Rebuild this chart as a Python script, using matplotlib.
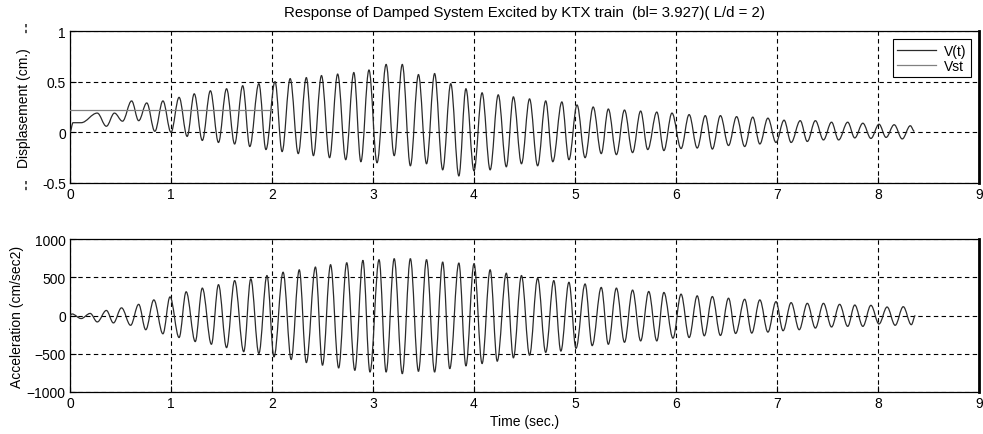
import matplotlib
matplotlib.use("Agg")
import matplotlib.pyplot as plt
from matplotlib.path import Path
from matplotlib.patches import PathPatch
from matplotlib.lines import Line2D

plt.rcParams['font.family'] = ['Liberation Sans', 'DejaVu Sans']
plt.rcParams['font.size'] = 10

# Displacement extremes (time s, cm)
disp_t = [0.00, 0.03, 0.11, 0.27, 0.36, 0.44, 0.52, 0.61, 0.68, 0.76, 0.84, 0.92, 1.00,
          1.08, 1.16, 1.23, 1.31, 1.39, 1.47, 1.55, 1.63, 1.71, 1.78, 1.87, 1.94, 2.03,
          2.10, 2.18, 2.26, 2.34, 2.41, 2.49, 2.57, 2.65, 2.73, 2.81, 2.88, 2.96, 3.04,
          3.13, 3.21, 3.29, 3.37, 3.45, 3.53, 3.61, 3.69, 3.77, 3.85, 3.92, 4.00, 4.08,
          4.16, 4.24, 4.32, 4.39, 4.47, 4.55, 4.63, 4.71, 4.78, 4.87, 4.94, 5.02, 5.10,
          5.18, 5.26, 5.33, 5.41, 5.49, 5.57, 5.65, 5.72, 5.81, 5.88, 5.96, 6.05, 6.13,
          6.21, 6.29, 6.36, 6.44, 6.52, 6.60, 6.68, 6.76, 6.83, 6.91, 6.99, 7.07, 7.14,
          7.23, 7.30, 7.38, 7.46, 7.54, 7.61, 7.70, 7.77, 7.85, 7.93, 8.01, 8.08, 8.16,
          8.24, 8.32, 8.36]
disp_v = [0.00, 0.095, 0.095, 0.19, 0.06, 0.19, 0.11, 0.31, 0.115, 0.29, 0.01, 0.31, 0.00,
          0.345, -0.04, 0.38, -0.08, 0.41, -0.10, 0.43, -0.115, 0.46, -0.14, 0.48, -0.17, 0.50,
          -0.19, 0.53, -0.21, 0.54, -0.23, 0.56, -0.25, 0.575, -0.27, 0.59, -0.29, 0.615, -0.30,
          0.67, -0.23, 0.67, -0.33, 0.57, -0.31, 0.58, -0.37, 0.48, -0.43, 0.43, -0.38, 0.39,
          -0.37, 0.37, -0.34, 0.35, -0.31, 0.33, -0.33, 0.31, -0.29, 0.30, -0.27, 0.27, -0.25,
          0.25, -0.21, 0.23, -0.22, 0.22, -0.20, 0.21, -0.17, 0.20, -0.18, 0.19, -0.16, 0.175,
          -0.155, 0.165, -0.165, 0.165, -0.13, 0.155, -0.14, 0.15, -0.115, 0.14, -0.10, 0.12, -0.10,
          0.115, -0.09, 0.115, -0.075, 0.10, -0.075, 0.10, -0.055, 0.09, -0.06, 0.08, -0.05, 0.075,
          -0.065, 0.065, 0.01]

# Static displacement line
vst_t = [0.0, 2.0]
vst_v = [0.22, 0.22]

# Acceleration extremes (time s, cm/sec2)
acc_t = [0.00, 0.02, 0.11, 0.20, 0.27, 0.36, 0.43, 0.51, 0.60, 0.68, 0.75, 0.83, 0.92, 0.99,
         1.08, 1.15, 1.24, 1.31, 1.40, 1.47, 1.55, 1.63, 1.72, 1.79, 1.87, 1.95, 2.02, 2.11,
         2.19, 2.27, 2.34, 2.43, 2.50, 2.58, 2.66, 2.74, 2.82, 2.90, 2.97, 3.06, 3.13, 3.21,
         3.29, 3.37, 3.45, 3.53, 3.61, 3.69, 3.76, 3.85, 3.92, 4.00, 4.08, 4.16, 4.23, 4.32,
         4.39, 4.47, 4.55, 4.63, 4.71, 4.79, 4.86, 4.94, 5.01, 5.10, 5.17, 5.26, 5.33, 5.41,
         5.49, 5.57, 5.65, 5.73, 5.81, 5.88, 5.97, 6.05, 6.13, 6.21, 6.28, 6.36, 6.44, 6.52,
         6.59, 6.68, 6.75, 6.83, 6.91, 6.99, 7.06, 7.14, 7.22, 7.30, 7.38, 7.46, 7.54, 7.62,
         7.70, 7.77, 7.85, 7.93, 8.01, 8.09, 8.17, 8.25, 8.33, 8.37]
acc_v = [0, 20, -40, 27, -84, 66, -97, 100, -128, 146, -186, 204, -239, 243,
         -288, 310, -341, 358, -376, 403, -420, 456, -473, 478, -496, 522, -540, 566,
         -575, 597, -615, 633, -650, 664, -686, 690, -717, 721, -739, 730, -739, 743,
         -761, 743, -730, 730, -739, 699, -695, 686, -659, 677, -628, 597, -597, 553,
         -553, 522, -518, 487, -482, 456, -465, 434, -429, 412, -394, 367, -376, 358,
         -350, 332, -332, 314, -332, 301, -296, 279, -288, 257, -265, 248, -261, 226,
         -235, 212, -230, 204, -217, 181, -199, 168, -186, 159, -164, 159, -150, 146,
         -142, 137, -142, 133, -111, 111, -128, 115, -120, 0]

x_ticks = [0, 1, 2, 3, 4, 5, 6, 7, 8, 9]
disp_yticks = [-0.5, 0, 0.5, 1]
disp_ylabels = ['-0.5', '0', '0.5', '1']
acc_yticks = [-1000, -500, 0, 500, 1000]

line_col = '#2b2b2b'


def smooth_path(ts, vs):
    """Bezier path through the extremes with flat tangents at each extreme
    (the curve drawing itself is done by matplotlib)."""
    verts = [(ts[0], vs[0])]
    codes = [Path.MOVETO]
    for i in range(len(ts) - 1):
        dt = ts[i + 1] - ts[i]
        verts += [(ts[i] + 0.36 * dt, vs[i]),
                  (ts[i + 1] - 0.36 * dt, vs[i + 1]),
                  (ts[i + 1], vs[i + 1])]
        codes += [Path.CURVE4] * 3
    return Path(verts, codes)


W, H = 983, 435
fig = plt.figure(figsize=(W / 100, H / 100), dpi=100)
ax1 = fig.add_axes([70 / W, 1 - 184 / H, 909 / W, 152 / H])
ax2 = fig.add_axes([70 / W, 1 - 393 / H, 909 / W, 153 / H])

grid_kw = dict(color='black', linestyle=(0, (4, 3)), linewidth=0.8)

ax1.add_patch(PathPatch(smooth_path(disp_t, disp_v), facecolor='none',
                        edgecolor=line_col, linewidth=0.9, zorder=3))
ax1.plot(vst_t, vst_v, color='#808080', linewidth=0.9, zorder=3)
ax1.set_xlim(0, 9)
ax1.set_ylim(-0.5, 1)
ax1.set_yticks(disp_yticks)
ax1.set_yticklabels(disp_ylabels)
ax1.set_ylabel('Displasement (cm.)', labelpad=8)
ax1.set_title('Response of Damped System Excited by KTX train  (bl= 3.927)( L/d = 2)',
              fontsize=10.8, pad=11)
handles = [Line2D([], [], color=line_col, linewidth=0.9),
           Line2D([], [], color='#808080', linewidth=0.9)]
leg = ax1.legend(handles, ['V(t)', 'Vst'], loc='upper right',
                 bbox_to_anchor=(0.9985, 0.99), frameon=True,
                 fancybox=False, edgecolor='black', framealpha=1, handlelength=2.8,
                 handletextpad=0.6, borderpad=0.3, labelspacing=0.1, fontsize=10)
leg.get_frame().set_linewidth(0.8)

ax2.add_patch(PathPatch(smooth_path(acc_t, acc_v), facecolor='none',
                        edgecolor=line_col, linewidth=0.9, zorder=3))
ax2.set_xlim(0, 9)
ax2.set_ylim(-1000, 1000)
ax2.set_yticks(acc_yticks)
ax2.set_ylabel('Acceleration (cm/sec2)', labelpad=2)
ax2.set_xlabel('Time (sec.)', labelpad=3)

for ax in (ax1, ax2):
    ax.set_xticks(x_ticks)
    ax.grid(True, **grid_kw)
    ax.set_axisbelow(True)
    ax.tick_params(direction='in', length=4, width=0.8, colors='black', labelsize=10, pad=3)
    for s in ax.spines.values():
        s.set_linewidth(0.9)
        s.set_color('black')
    ax.spines['right'].set_linewidth(2)

# small dotted artefacts at the left edge of the upper panel
for y0, y1 in ((25, 35), (182, 192)):
    fig.add_artist(Line2D([26 / W, 26 / W], [1 - y0 / H, 1 - y1 / H],
                          color='#333333', linewidth=1.2, linestyle=(0, (2, 1.5))))

fig.savefig('out.png', dpi=100)
